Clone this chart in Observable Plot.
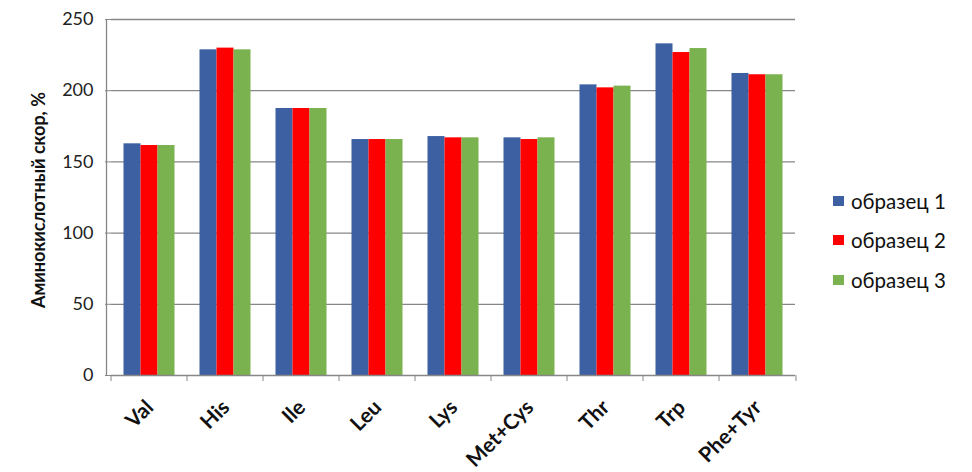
<!DOCTYPE html>
<html>
<head>
<meta charset="utf-8">
<script src="https://cdn.jsdelivr.net/npm/d3@7"></script>
<script src="https://cdn.jsdelivr.net/npm/@observablehq/plot@0.6"></script>
<style>
  html, body { margin: 0; padding: 0; background: #fff; }
  #wrap { position: relative; width: 972px; height: 472px; font-family: Lato, "Open Sans", sans-serif; }
  #legend { position: absolute; left: 833px; top: 181px; }
  .item { display: flex; align-items: center; height: 39.5px; font-size: 20.5px; color: #111; }
  .sw { width: 11px; height: 10px; margin-right: 7px; }
</style>
</head>
<body>
<div id="wrap"><div id="legend"></div></div>
<script>
const categories = ["Val", "His", "Ile", "Leu", "Lys", "Met+Cys", "Thr", "Trp", "Phe+Tyr"];
const series = ["образец 1", "образец 2", "образец 3"];
const sample1 = [162.7, 228.7, 187.5, 165.7, 167.8, 166.9, 204.1, 232.9, 212.1];
const sample2 = [161.5, 229.9, 187.5, 165.7, 166.9, 165.7, 202.0, 226.8, 211.2];
const sample3 = [161.5, 228.7, 187.5, 165.7, 166.9, 166.9, 203.2, 229.6, 211.2];
const colors = ["#3C60A2", "#FF0000", "#7AB24F"];
const yTicks = [0, 50, 100, 150, 200, 250];
const yTitle = "Аминокислотный скор, %";

const values = [sample1, sample2, sample3];
const rows = [];
categories.forEach((c, i) => series.forEach((s, j) => rows.push({cat: c, series: s, value: values[j][i]})));

const W = 972, H = 472, ML = 106.5, MR = 173, MT = 19, MB = 97;
const step = (W - ML - MR) / categories.length;
const gridColor = "#878787";

const chart = Plot.plot({
  width: W, height: H,
  marginLeft: ML, marginRight: MR, marginTop: MT, marginBottom: MB,
  style: {fontFamily: "Lato, 'Open Sans', sans-serif", background: "transparent"},
  fx: {domain: categories, padding: 0, label: null, axis: null},
  x: {domain: series, paddingInner: 0, paddingOuter: 0.73, axis: null},
  y: {domain: [0, 250], label: null, ticks: yTicks, axis: null},
  color: {domain: series, range: colors},
  marks: [
    Plot.ruleY(yTicks.filter(d => d > 0), {stroke: gridColor, strokeWidth: 1.3}),
    Plot.barY(rows, {fx: "cat", x: "series", y: "value", fill: "series"}),
    Plot.ruleY([0], {stroke: gridColor, strokeWidth: 1.3}),
    Plot.axisY({ticks: yTicks, tickSize: 6, tickPadding: 12, fontSize: 18, stroke: gridColor, color: "#222", label: null}),
    Plot.axisFx({anchor: "bottom", tickSize: 6, tickFormat: () => "", dx: -step / 2, stroke: gridColor, label: null}),
    Plot.axisFx({anchor: "bottom", ticks: [categories[categories.length - 1]], tickSize: 6, tickFormat: () => "", dx: step / 2, stroke: gridColor, label: null})
  ]
});

const svg = d3.select(chart);
const fx = chart.scale("fx");
const y0 = MT + (H - MT - MB); // bottom of frame
// category labels, rotated 45°, positioned with Plot's fx scale
svg.append("g")
  .attr("font-family", "Lato, 'Open Sans', sans-serif")
  .attr("font-size", 21).attr("font-weight", "bold").attr("fill", "#111")
  .selectAll("text").data(categories).join("text")
  .attr("transform", d => `translate(${fx.apply(d) + fx.bandwidth / 2 - 5},${y0 + 23}) rotate(-45)`)
  .attr("text-anchor", "end").attr("dy", "0.72em")
  .text(d => d);
// y axis line
svg.append("line")
  .attr("x1", ML).attr("x2", ML).attr("y1", MT).attr("y2", y0)
  .attr("stroke", gridColor).attr("stroke-width", 1.3);
// y title
svg.append("text")
  .attr("transform", `translate(38,${MT + (H - MT - MB) / 2 + 3}) rotate(-90)`)
  .attr("text-anchor", "middle").attr("dominant-baseline", "central")
  .attr("font-size", 18).attr("font-weight", "bold").attr("fill", "#111")
  .attr("font-family", "Lato, 'Open Sans', sans-serif")
  .text(yTitle);

document.getElementById("wrap").prepend(chart);
const legend = document.getElementById("legend");
series.forEach((s, i) => {
  const it = document.createElement("div");
  it.className = "item";
  it.innerHTML = `<span class="sw" style="background:${colors[i]}"></span><span>${s}</span>`;
  legend.appendChild(it);
});
</script>
</body>
</html>
